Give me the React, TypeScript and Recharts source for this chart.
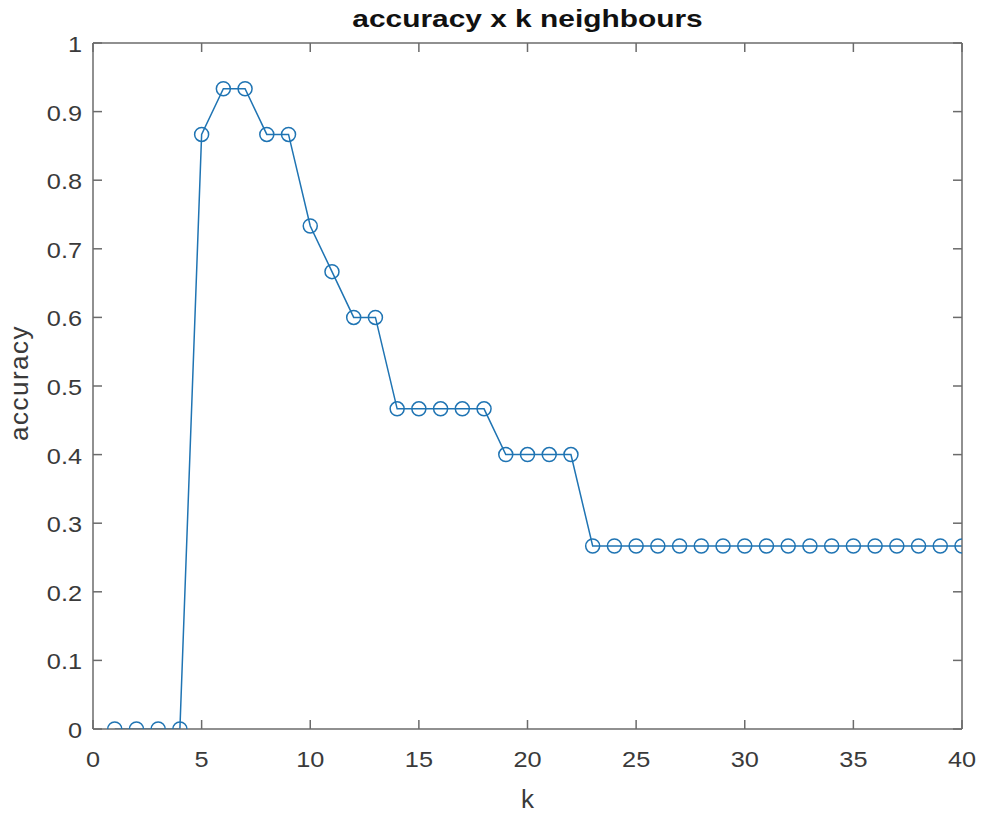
import React from 'react';
import { LineChart, Line, XAxis, YAxis } from 'recharts';

const kValues = [
  1, 2, 3, 4, 5, 6, 7, 8, 9, 10,
  11, 12, 13, 14, 15, 16, 17, 18, 19, 20,
  21, 22, 23, 24, 25, 26, 27, 28, 29, 30,
  31, 32, 33, 34, 35, 36, 37, 38, 39, 40,
];
const accuracyValues = [
  0, 0, 0, 0, 0.8667, 0.9333, 0.9333, 0.8667, 0.8667, 0.7333,
  0.6667, 0.6, 0.6, 0.4667, 0.4667, 0.4667, 0.4667, 0.4667, 0.4, 0.4,
  0.4, 0.4, 0.2667, 0.2667, 0.2667, 0.2667, 0.2667, 0.2667, 0.2667, 0.2667,
  0.2667, 0.2667, 0.2667, 0.2667, 0.2667, 0.2667, 0.2667, 0.2667, 0.2667, 0.2667,
];
const xTicks = [0, 5, 10, 15, 20, 25, 30, 35, 40];
const yTicks = [0, 0.1, 0.2, 0.3, 0.4, 0.5, 0.6, 0.7, 0.8, 0.9, 1];
const yTickLabels = ['0', '0.1', '0.2', '0.3', '0.4', '0.5', '0.6', '0.7', '0.8', '0.9', '1'];

const titleText = 'accuracy x k neighbours';
const xLabelText = 'k';
const yLabelText = 'accuracy';

const data = kValues.map((k, i) => ({ k, accuracy: accuracyValues[i] }));

const FONT = '"Liberation Sans", Arial, Helvetica, sans-serif';
const LINE_COLOR = '#1f74b3';
const AXIS_COLOR = '#6b6b6b';
const TEXT_COLOR = '#3a3a3a';
const TICK_LEN = 9;

const XTick = (props: any) => {
  const { x, y, payload } = props;
  return (
    <g>
      <line x1={x} x2={x} y1={y} y2={y - TICK_LEN} stroke={AXIS_COLOR} strokeWidth={1.5} />
      <text
        transform={`translate(${x} ${y + 38}) scale(1.15 1)`}
        textAnchor="middle"
        fontFamily={FONT}
        fontSize={22}
        fill={TEXT_COLOR}
      >
        {String(payload.value)}
      </text>
    </g>
  );
};

const TopTick = (props: any) => {
  const { x, y } = props;
  return <line x1={x} x2={x} y1={y} y2={y + TICK_LEN} stroke={AXIS_COLOR} strokeWidth={1.5} />;
};

const YTick = (props: any) => {
  const { x, y, payload } = props;
  const idx = yTicks.findIndex((t) => Math.abs(t - payload.value) < 1e-9);
  const label = idx >= 0 ? yTickLabels[idx] : String(payload.value);
  return (
    <g>
      <line x1={x} x2={x + TICK_LEN} y1={y} y2={y} stroke={AXIS_COLOR} strokeWidth={1.5} />
      <text
        transform={`translate(${x - 11} ${y + 9}) scale(1.15 1)`}
        textAnchor="end"
        fontFamily={FONT}
        fontSize={22}
        fill={TEXT_COLOR}
      >
        {label}
      </text>
    </g>
  );
};

const RightTick = (props: any) => {
  const { x, y } = props;
  return <line x1={x} x2={x - TICK_LEN} y1={y} y2={y} stroke={AXIS_COLOR} strokeWidth={1.5} />;
};

const TitleLabel = (props: any) => {
  const vb = props.viewBox || {};
  const cx = vb.x + vb.width / 2;
  return (
    <text
      transform={`translate(${cx} ${vb.y + vb.height - 16}) scale(1.3 1)`}
      textAnchor="middle"
      fontFamily={FONT}
      fontSize={23}
      fontWeight="bold"
      fill="#111"
    >
      {titleText}
    </text>
  );
};

const XLabel = (props: any) => {
  const vb = props.viewBox || {};
  const cx = vb.x + vb.width / 2;
  return (
    <text
      x={cx}
      y={vb.y + 79}
      textAnchor="middle"
      fontFamily={FONT}
      fontSize={26}
      fill={TEXT_COLOR}
    >
      {xLabelText}
    </text>
  );
};

const YLabel = (props: any) => {
  const vb = props.viewBox || {};
  const cy = vb.y + vb.height / 2 - 3;
  const cx = 19;
  return (
    <text
      transform={`translate(${cx} ${cy}) rotate(-90)`}
      textAnchor="middle"
      dominantBaseline="central"
      fontFamily={FONT}
      fontSize={26}
      letterSpacing={1.5}
      fill={TEXT_COLOR}
    >
      {yLabelText}
    </text>
  );
};

export default function App() {
  const axisLine = { stroke: AXIS_COLOR, strokeWidth: 1.5 };
  return (
    <div style={{ position: 'absolute', left: 0, top: 0, width: 982, height: 814, background: '#fff' }}>
      <LineChart
        width={982}
        height={814}
        data={data}
        margin={{ top: 42, right: 19, left: 0, bottom: 0 }}
      >
        <XAxis
          dataKey="k"
          type="number"
          domain={[0, 40]}
          ticks={xTicks}
          interval={0}
          height={85}
          axisLine={axisLine}
          tickLine={false}
          tickSize={0}
          tickMargin={0}
          tick={<XTick />}
          allowDataOverflow
          label={{ content: <XLabel /> }}
        />
        <XAxis
          xAxisId="top"
          orientation="top"
          dataKey="k"
          type="number"
          domain={[0, 40]}
          ticks={xTicks}
          interval={0}
          height={1}
          axisLine={axisLine}
          tickLine={false}
          tickSize={0}
          tickMargin={0}
          tick={<TopTick />}
          allowDataOverflow
          label={{ content: <TitleLabel /> }}
        />
        <YAxis
          type="number"
          domain={[0, 1]}
          ticks={yTicks}
          interval={0}
          width={93}
          axisLine={axisLine}
          tickLine={false}
          tickSize={0}
          tickMargin={0}
          tick={<YTick />}
          allowDataOverflow
          label={{ content: <YLabel /> }}
        />
        <YAxis
          yAxisId="right"
          orientation="right"
          type="number"
          domain={[0, 1]}
          ticks={yTicks}
          interval={0}
          width={1}
          axisLine={axisLine}
          tickLine={false}
          tickSize={0}
          tickMargin={0}
          tick={<RightTick />}
          allowDataOverflow
        />
        <Line
          xAxisId="top"
          yAxisId="right"
          type="linear"
          dataKey="accuracy"
          stroke="none"
          strokeOpacity={0}
          dot={false}
          activeDot={false}
          legendType="none"
          isAnimationActive={false}
        />
        <Line
          type="linear"
          dataKey="accuracy"
          stroke={LINE_COLOR}
          strokeWidth={1.5}
          dot={{ r: 7, fill: 'none', stroke: LINE_COLOR, strokeWidth: 1.5 }}
          activeDot={false}
          isAnimationActive={false}
        />
      </LineChart>
    </div>
  );
}
